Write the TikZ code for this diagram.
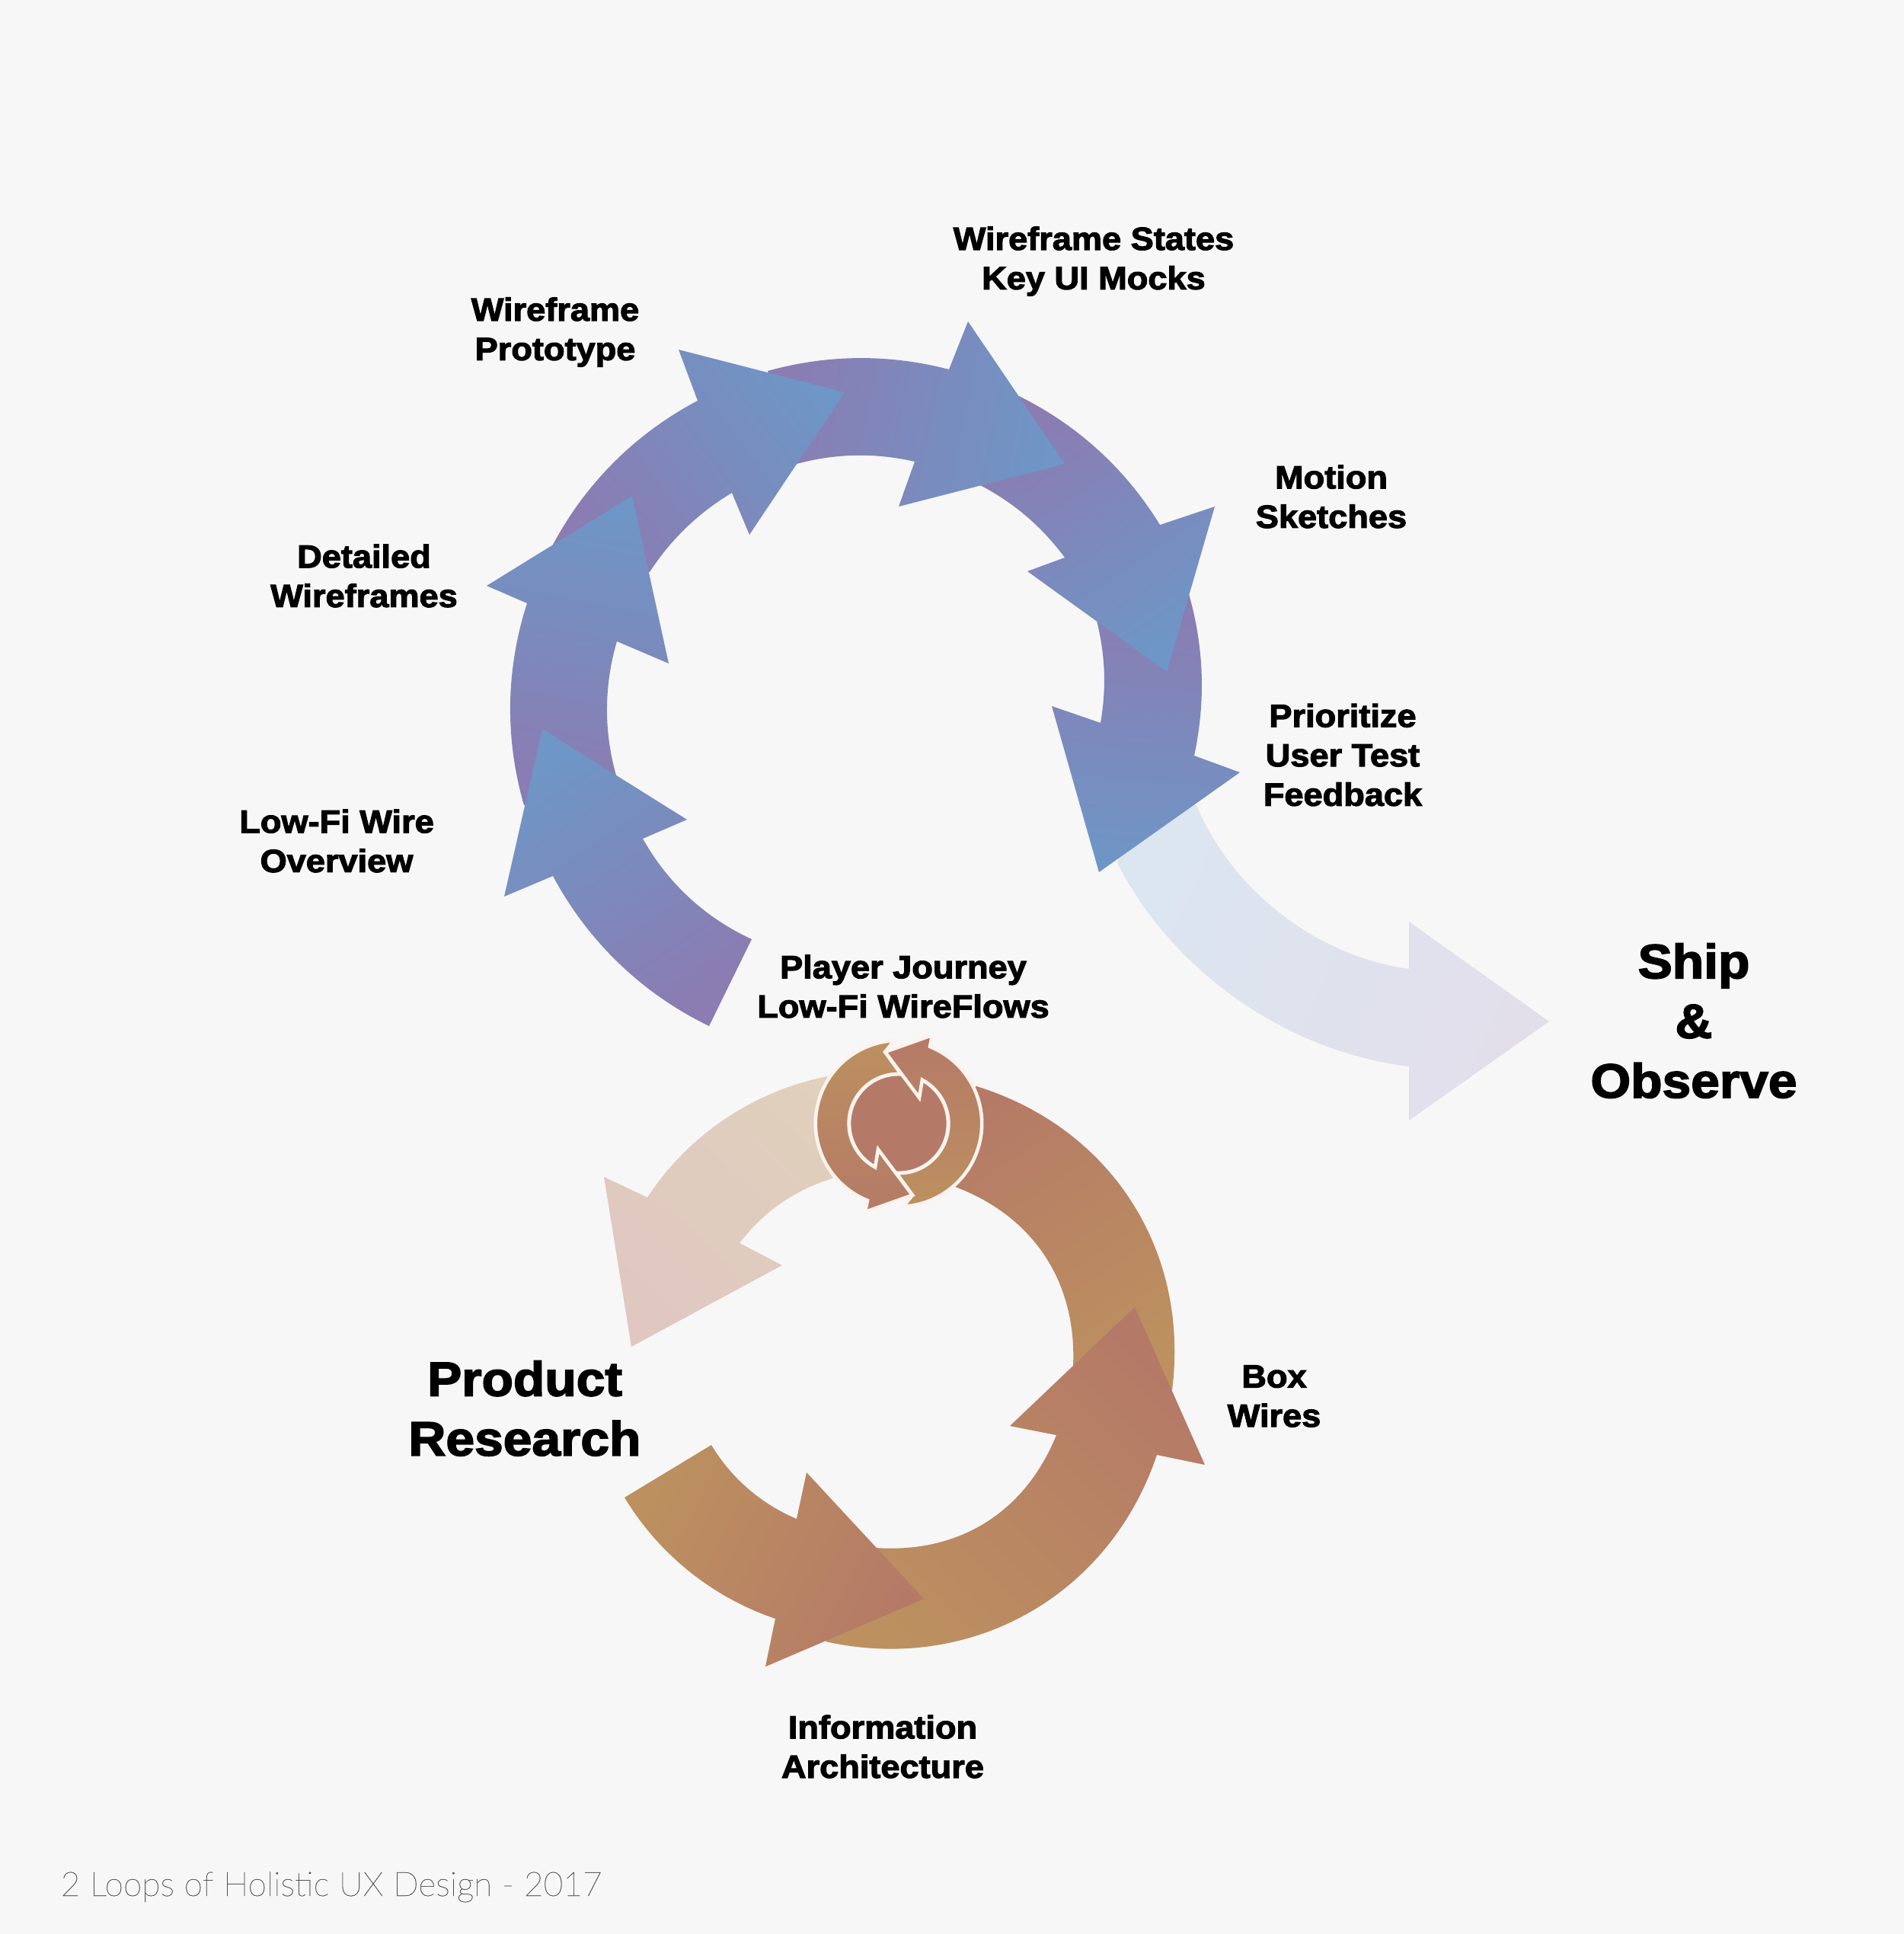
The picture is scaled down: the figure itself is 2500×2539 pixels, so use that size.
\documentclass[tikz,border=0pt]{standalone}
\usepackage{fontspec}
\usepackage{xcolor}
\newfontfamily\labelfont{Liberation Sans Bold}[FakeBold=2.6,FakeStretch=1.07]
\newfontfamily\notefont{Lato Thin}[FakeBold=0.5]
\definecolor{paper}{RGB}{247, 247, 247}
\definecolor{tipblue}{RGB}{110, 150, 198}
\definecolor{tailpurple}{RGB}{139, 124, 178}
\definecolor{tipclay}{RGB}{181, 122, 103}
\definecolor{tailgold}{RGB}{188, 144, 95}
\definecolor{palehaze}{RGB}{226, 223, 235}
\definecolor{paleblue}{RGB}{219, 230, 240}
\definecolor{palesand}{RGB}{224, 208, 188}
\definecolor{paleblush}{RGB}{224, 200, 193}
\definecolor{iconline}{RGB}{251, 243, 238}
\definecolor{notegray}{RGB}{80, 80, 80}
\tikzset{
  bluearrow/.style={top color=tipblue, bottom color=tailpurple, shading angle=#1},
  clayarrow/.style={top color=tipclay, bottom color=tailgold, shading angle=#1},
  iconarrow/.style={top color=tipclay, bottom color=tailgold, shading angle=#1, draw=iconline, line width=1.3pt, line join=miter},
  smalllabel/.style={align=center, inner sep=0pt, font=\labelfont\fontsize{12}{14.7}\selectfont},
  biglabel/.style={align=center, inner sep=0pt, font=\labelfont\fontsize{18}{22.3}\selectfont},
}

\begin{document}
\begin{tikzpicture}[x=0.01cm, y=-0.01cm, looseness=.88]

\fill[paper] (0,0) rectangle (2500,2539);
\useasboundingbox (0,0) rectangle (2500,2539);

% way out of the upper loop
\shade[top color=palehaze, middle color=palehaze, bottom color=paleblue, shading angle=-114]
  (1467,1133) to[bend right=28] (1850,1400) -- (1850,1471) -- (2034,1341) -- (1850,1210) -- (1850,1272)
  to[bend left=30] (1571,1057) -- (1500,1050) -- cycle;

% upper loop, last arrow first
\shade[bluearrow=-185] (1561,780) to[bend left=14] (1568,992) -- (1628,1014) -- (1443,1145) -- (1381,927) -- (1445,949) to[bend right=12] (1440,815) -- cycle;
\shade[bluearrow=-146] (1338,520) to[bend left=16] (1523,689) -- (1595,665) -- (1532,882) -- (1349,750) -- (1398,732) to[bend right=13] (1287,637) -- cycle;
\shade[bluearrow=-101] (1008,487) to[bend left=15] (1246,485) -- (1271,422) -- (1398,609) -- (1180,665) -- (1201,606) to[bend right=14] (1046,609) -- cycle;
\shade[bluearrow=-53] (726,715) to[bend left=17] (916,526) -- (891,459) -- (1109,515) -- (984,702) -- (961,647) to[bend right=13] (853,751) -- cycle;
\shade[bluearrow=-11] (688,1057) to[bend left=17] (692,792) -- (639,769) -- (830,651) -- (878,871) -- (810,842) to[bend right=16] (809,1018) -- cycle;
\shade[bluearrow=34] (931,1347) to[bend left=18] (726,1150) -- (662,1177) -- (712,957) -- (902,1076) -- (844,1101) to[bend right=18] (987,1233) -- cycle;

% lower loop
\shade[top color=paleblush, bottom color=palesand, shading angle=138]
  (1180,1475) -- (1087,1413) to[bend right=23] (850,1572) -- (793,1545) -- (829,1768) -- (1027,1661) -- (971,1632)
  to[bend left=18] (1093,1547) -- cycle;
\shade[clayarrow=33] (1539,1825) to[bend right=40, looseness=1] (1282,1426) -- (1180,1475) -- (1254,1558) to[bend left=36, looseness=1] (1409,1793) -- cycle;
\shade[clayarrow=-45] (1084,2155) to[bend right=42, looseness=1] (1519,1910) -- (1582,1923) -- (1490,1716) -- (1326,1872) -- (1387,1884) to[bend left=36, looseness=1] (1150,2032) -- cycle;
\shade[clayarrow=-117] (820,1966) to[bend right=20] (1018,2125) -- (1005,2188) -- (1213,2099) -- (1059,1933) -- (1046,1994) to[bend left=18] (934,1897) -- cycle;

% little refresh sign on the crossing
\coordinate (iconmid) at (1180,1475);
\filldraw[fill=tipclay, draw=iconline, line width=1.3pt] (iconmid) circle (65);
\shadedraw[iconarrow=0] (1224,1359) -- (1221,1374) arc[start angle=-68, end angle=87, radius=109]
  -- (1198,1569) -- (1177,1540) arc[start angle=93, end angle=-62, radius=65] -- (1207,1441) -- (1162,1381) -- cycle;
\shadedraw[iconarrow=180] (1136,1591) -- (1139,1576) arc[start angle=112, end angle=267, radius=109]
  -- (1162,1381) -- (1183,1410) arc[start angle=273, end angle=118, radius=65] -- (1153,1509) -- (1198,1569) -- cycle;

% labels
\node[smalllabel] (states) at (1436,343) {Wireframe States\\Key UI Mocks};
\node[smalllabel] (prototype) at (729,436) {Wireframe\\Prototype};
\node[smalllabel] (motion) at (1748,652) {Motion\\Sketches};
\node[smalllabel] (detailed) at (478,756) {Detailed\\Wireframes};
\node[smalllabel] (feedback) at (1763,991) {Prioritize\\User Test\\Feedback};
\node[smalllabel] (lowfi) at (442,1104) {Low-Fi Wire\\Overview};
\node[smalllabel] (journey) at (1186,1295) {Player Journey\\Low-Fi WireFlows};
\node[smalllabel] (boxwires) at (1673,1833) {Box\\Wires};
\node[smalllabel] (architecture) at (1159,2293) {Information\\Architecture};
\node[biglabel] (ship) at (2224,1340) {Ship\\\&\\Observe};
\node[biglabel] (research) at (689,1849) {Product\\Research};
\node[anchor=base west, inner sep=0pt, text=notegray, font=\notefont\fontsize{12.6}{16}\selectfont] (caption) at (79,2489) {2 Loops of Holistic UX Design - 2017};

\end{tikzpicture}
\end{document}
